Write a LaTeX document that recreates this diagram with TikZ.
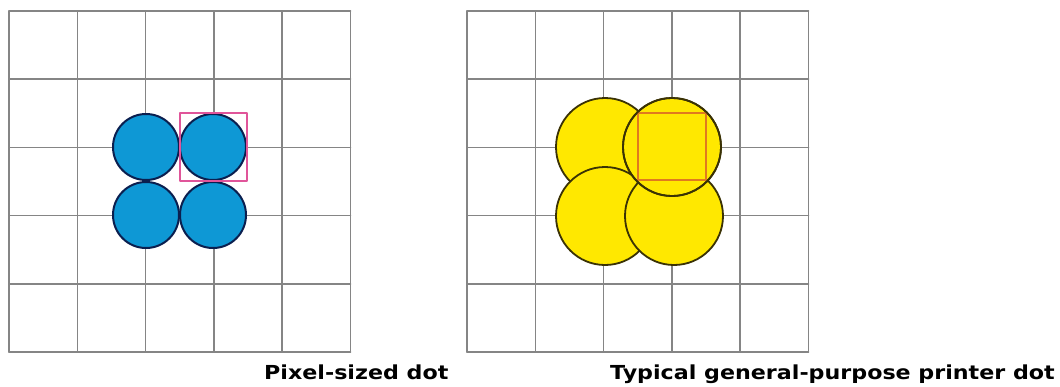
\documentclass[tikz,border=0pt]{standalone}
\usepackage{fontspec}
\setmainfont{DejaVu Sans}
\newfontfamily\capfont[FakeStretch=1.15]{DejaVu Sans Bold}
\usepackage{xcolor}
\definecolor{gridgray}{HTML}{858585}
\definecolor{dotblue}{HTML}{0E98D5}
\definecolor{bluerim}{HTML}{0B1F4F}
\definecolor{dotyellow}{HTML}{FFE800}
\definecolor{yellowrim}{HTML}{3A3205}
\definecolor{pixpink}{HTML}{E0559A}
\definecolor{pixorange}{HTML}{E07A1F}

\begin{document}
\begin{tikzpicture}[
  x=1pt, y=-1pt,
  line cap=round, line join=round,
  grd/.style={gridgray, line width=1.6pt},
  bdot/.style={fill=dotblue, draw=bluerim, line width=2pt},
  ydot/.style={fill=dotyellow, draw=yellowrim, line width=1.8pt},
  pix/.style={line width=2pt},
  lbl/.style={font=\capfont\fontsize{19.3}{23}\selectfont, inner sep=0pt}
]
  \useasboundingbox (0,0) rectangle (1060,386);
  % two 5x5 grids
  \foreach \gx in {9,467} {
    \foreach \i in {0,...,5} {
      \draw[grd] ({\gx+68.3*\i},11) -- ({\gx+68.3*\i},352);
      \draw[grd] (\gx,{11+68.2*\i}) -- ({\gx+341.5},{11+68.2*\i});
    }
  }
  % pixel-sized dots
  \foreach \cx/\cy in {146/147, 213/147, 146/215, 213/215}
    \draw[bdot] (\cx,\cy) circle (33);
  \draw[pix, pixpink] (180,113) rectangle (247,181);
  % printer dots, drawn back to front
  \draw[ydot] (605,147) circle (49);
  \draw[ydot] (605,216) circle (49);
  \draw[ydot] (674,216) circle (49);
  \draw[ydot] (672,147) circle (49);
  \draw[pix, pixorange] (638,113) rectangle (706,180);
  \draw[ydot, fill=none] (672,147) circle (49);
  % captions
  \node[lbl, anchor=base west] (pixcap) at (264,379) {Pixel-sized dot};
  \node[lbl, anchor=base east] (prncap) at (1055,379) {Typical general-purpose printer dot};
\end{tikzpicture}
\end{document}
